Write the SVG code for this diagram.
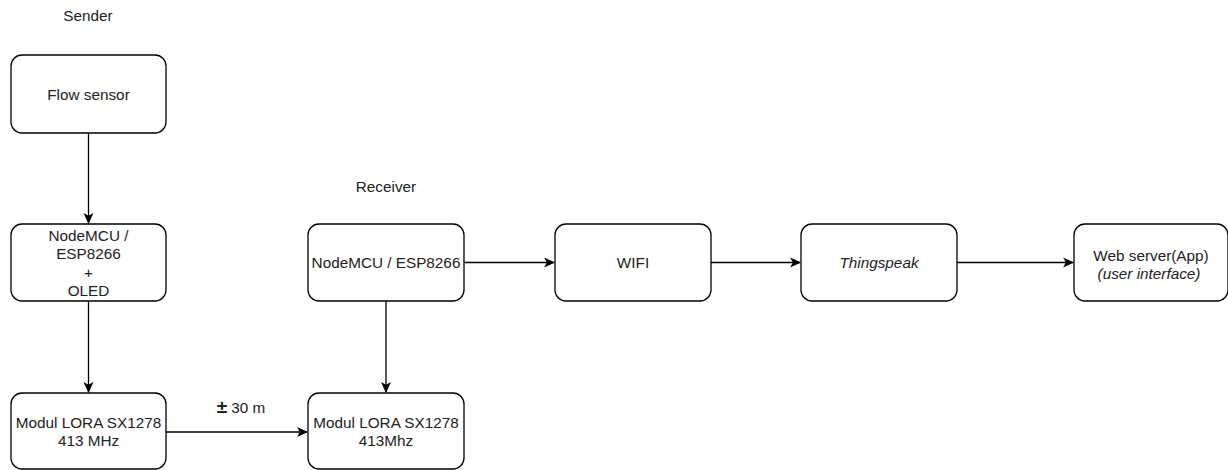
<svg xmlns="http://www.w3.org/2000/svg" width="1228" height="470" viewBox="0 0 1228 470">
<defs>
<marker id="arr" viewBox="0 0 10 10" refX="9" refY="5" markerWidth="11" markerHeight="11" markerUnits="userSpaceOnUse" orient="auto">
<path d="M0,0.5 L10,5 L0,9.5 L2.5,5 Z" fill="#000"/>
</marker>
</defs>
<style>
.box{fill:#fff;stroke:#000;stroke-width:1.3}
.t{font-family:"Liberation Sans",Arial,sans-serif;font-size:15.3px;fill:#222;text-anchor:middle}
.i{font-style:italic}
.c{fill:none;stroke:#000;stroke-width:1.3}
</style>
<rect width="1228" height="470" fill="#fff"/>
<text class="t" x="88" y="20.5">Sender</text>
<text class="t" x="386" y="191.5">Receiver</text>
<g id="flow"><rect class="box" x="11" y="55" width="155" height="78" rx="11"/><text class="t" x="88.5" y="99.5">Flow sensor</text></g>
<g id="nodemcu1"><rect class="box" x="11" y="224" width="155" height="77" rx="11"/>
<text class="t" x="88.5" y="240.5">NodeMCU /</text><text class="t" x="88.5" y="259">ESP8266</text><text class="t" x="88.5" y="277.5">+</text><text class="t" x="88.5" y="296">OLED</text></g>
<g id="lora1"><rect class="box" x="11" y="393" width="155" height="76" rx="11"/>
<text class="t" x="88.5" y="427.5">Modul LORA SX1278</text><text class="t" x="88.5" y="446">413 MHz</text></g>
<g id="nodemcu2"><rect class="box" x="308" y="224" width="156" height="77" rx="11"/>
<text class="t" x="386" y="267.5">NodeMCU / ESP8266</text></g>
<g id="lora2"><rect class="box" x="308" y="393" width="156" height="76" rx="11"/>
<text class="t" x="386" y="427.5">Modul LORA SX1278</text><text class="t" x="386" y="446">413Mhz</text></g>
<g id="wifi"><rect class="box" x="555" y="224" width="156" height="77" rx="11"/><text class="t" x="633" y="267.5">WIFI</text></g>
<g id="thingspeak"><rect class="box" x="801" y="224" width="156" height="77" rx="11"/><text class="t i" x="879" y="267.5">Thingspeak</text></g>
<g id="web"><rect class="box" x="1074" y="224" width="154" height="77" rx="11"/>
<text class="t" x="1151" y="260.5">Web server(App)</text><text class="t i" x="1149" y="279">(user interface)</text></g>
<g id="connectors">
<path class="c" d="M88.5,133 V223" marker-end="url(#arr)"/>
<path class="c" d="M88.5,301 V392" marker-end="url(#arr)"/>
<path class="c" d="M386,301 V392" marker-end="url(#arr)"/>
<path class="c" d="M166,432 H307" marker-end="url(#arr)"/>
<path class="c" d="M464,262.5 H554" marker-end="url(#arr)"/>
<path class="c" d="M711,262.5 H800" marker-end="url(#arr)"/>
<path class="c" d="M957,262.5 H1073" marker-end="url(#arr)"/>
<text class="t" x="241" y="413"><tspan font-size="19px" font-weight="bold">±</tspan> 30 m</text>
</g>
</svg>
